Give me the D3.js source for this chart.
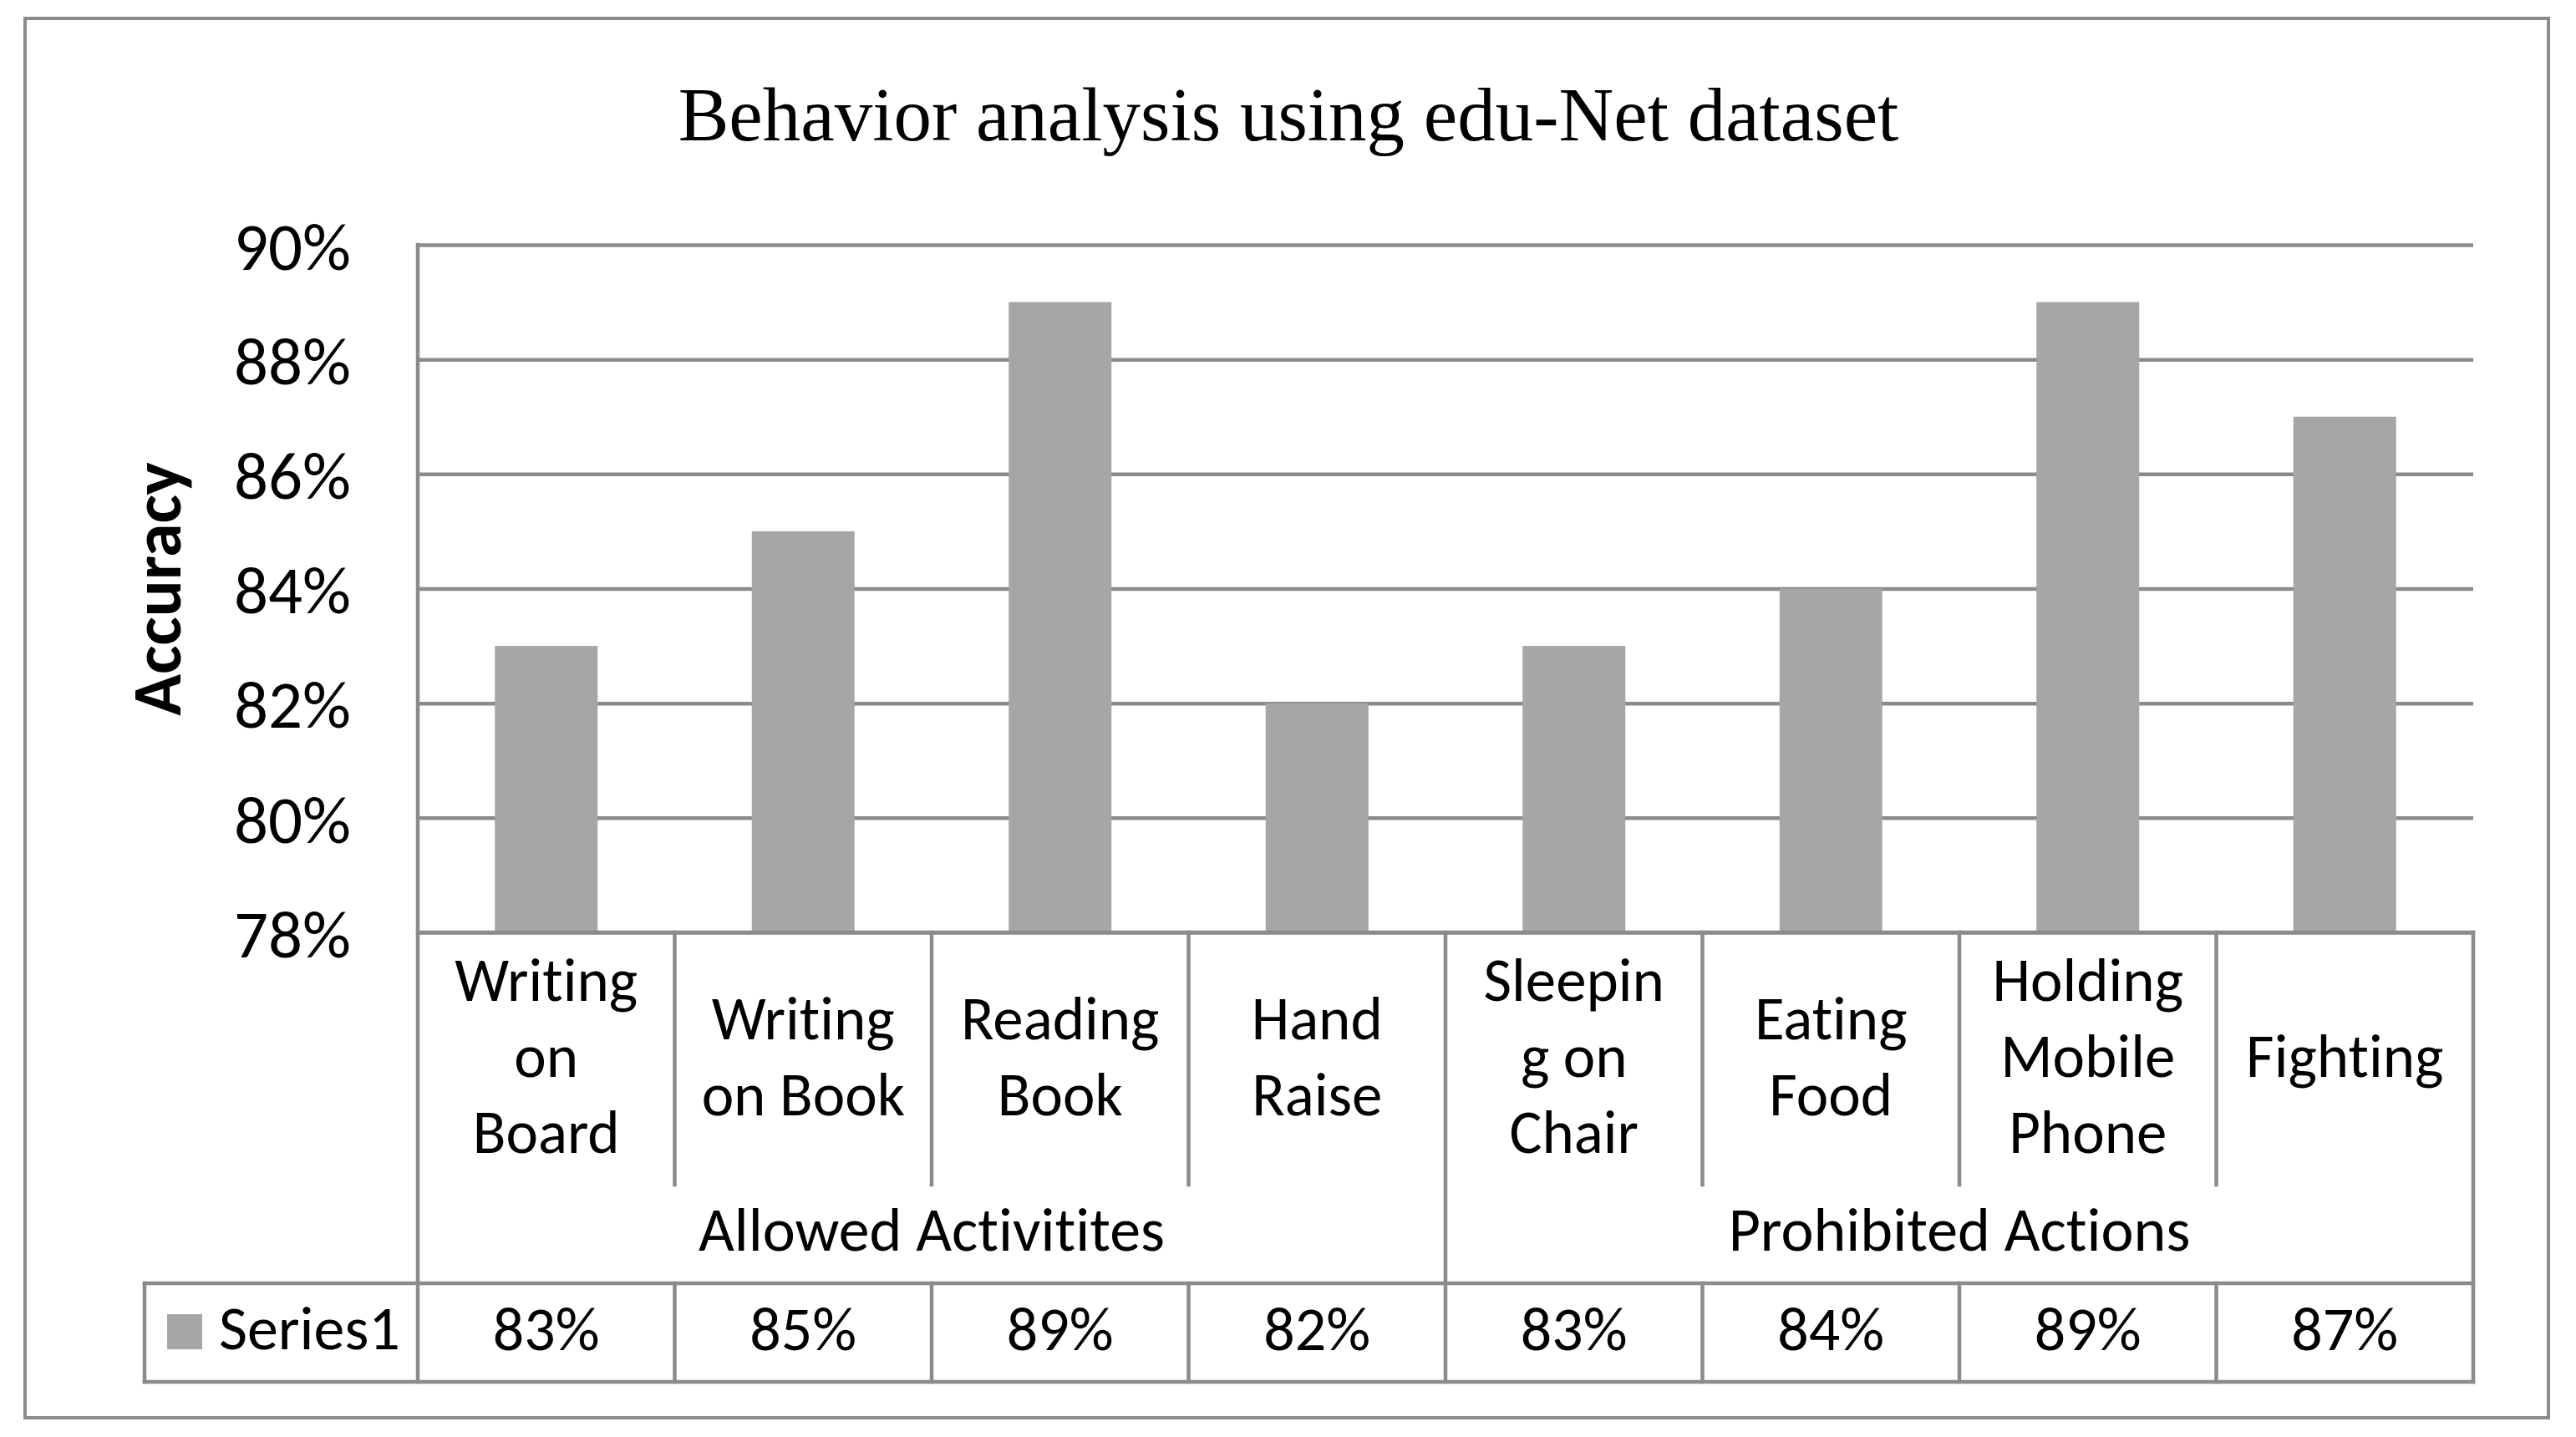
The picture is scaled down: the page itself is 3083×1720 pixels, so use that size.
<!DOCTYPE html>
<html>
<head>
<meta charset="utf-8">
<script src="https://cdn.jsdelivr.net/npm/d3@7"></script>
<style>
  html, body { margin: 0; padding: 0; background: #ffffff; }
  svg { display: block; }
  text { font-variant-ligatures: none; font-feature-settings: "liga" 0, "clig" 0; }
</style>
</head>
<body>
<svg id="chart" width="3083" height="1720"></svg>
<script>
// ---- data ----
const title = "Behavior analysis using edu-Net dataset";
const yAxisTitle = "Accuracy";
const categories = ["Writing\non\nBoard", "Writing\non Book", "Reading\nBook", "Hand\nRaise",
                    "Sleepin\ng on\nChair", "Eating\nFood", "Holding\nMobile\nPhone", "Fighting"];
const groups = ["Allowed Activitites", "Prohibited Actions"];
const groupSizes = [4, 4];
const seriesName = "Series1";
const values = [83, 85, 89, 82, 83, 84, 89, 87];
const yTicks = [78, 80, 82, 84, 86, 88, 90];

// ---- layout ----
const W = 3083, H = 1720;
const plot = { left: 500, right: 2960, top: 293, bottom: 1116 };
const catBottom = 1418, tableTop = 1536, tableBottom = 1654, tableLeft = 173;
const lineColor = "#8b8b8b", barColor = "#a6a6a6";
const sans = "Carlito, Lato, 'Open Sans', sans-serif";
const lw = 4.5;

const svg = d3.select("#chart");
svg.append("rect").attr("x", 0).attr("y", 0).attr("width", W).attr("height", H).attr("fill", "#fff");
// outer border
svg.append("rect").attr("x", 30).attr("y", 22).attr("width", 3020).attr("height", 1675)
  .attr("fill", "none").attr("stroke", lineColor).attr("stroke-width", 4);

const x = d3.scaleBand().domain(categories.map((d, i) => i)).range([plot.left, plot.right])
  .paddingInner(0.6).paddingOuter(0.3);
const y = d3.scaleLinear().domain([78, 90]).range([plot.bottom, plot.top]);

// title
svg.append("text").attr("x", 1542).attr("y", 168).attr("text-anchor", "middle")
  .attr("font-family", "'Liberation Serif', 'Times New Roman', serif").attr("font-size", 91)
  .attr("fill", "#000").text(title);

// y axis title
svg.append("text").attr("transform", "translate(216,705) rotate(-90)")
  .attr("text-anchor", "middle").attr("font-family", sans).attr("font-weight", "bold")
  .attr("font-size", 82).attr("fill", "#000").text(yAxisTitle);

// gridlines via axis
const gAxis = svg.append("g").attr("transform", `translate(${plot.left},0)`)
  .call(d3.axisLeft(y).tickValues(yTicks).tickSize(-(plot.right - plot.left)).tickPadding(80)
        .tickFormat(d => d + "%"));
gAxis.select(".domain").remove();
gAxis.selectAll(".tick line").attr("stroke", lineColor).attr("stroke-width", lw);
gAxis.selectAll(".tick text").attr("font-family", sans).attr("font-size", 81).attr("fill", "#000")
  .attr("dy", "0.36em");

// bars
svg.append("g").selectAll("rect").data(values).join("rect")
  .attr("x", (d, i) => x(i)).attr("width", x.bandwidth())
  .attr("y", d => y(d)).attr("height", d => y(78) - y(d))
  .attr("fill", barColor);

// structural lines
const lines = svg.append("g").attr("stroke", lineColor).attr("stroke-width", lw).attr("stroke-linecap", "square");
lines.append("line").attr("x1", plot.left).attr("x2", plot.left).attr("y1", plot.top).attr("y2", tableBottom);
lines.append("line").attr("x1", plot.left).attr("x2", plot.right).attr("y1", plot.bottom).attr("y2", plot.bottom);
lines.append("line").attr("x1", plot.right).attr("x2", plot.right).attr("y1", plot.bottom).attr("y2", tableBottom);

const step = x.step();
const boundaries = d3.range(1, categories.length).map(i => plot.left + i * step);
const groupEnds = d3.cumsum(groupSizes);
boundaries.forEach((bx, k) => {
  const idx = k + 1;
  const isGroup = groupEnds.includes(idx);
  lines.append("line").attr("x1", bx).attr("x2", bx).attr("y1", plot.bottom)
    .attr("y2", isGroup ? tableBottom : catBottom);
  if (!isGroup) {
    lines.append("line").attr("x1", bx).attr("x2", bx).attr("y1", tableTop).attr("y2", tableBottom);
  }
});
lines.append("line").attr("x1", tableLeft).attr("x2", plot.right).attr("y1", tableTop).attr("y2", tableTop);
lines.append("line").attr("x1", tableLeft).attr("x2", plot.right).attr("y1", tableBottom).attr("y2", tableBottom);
lines.append("line").attr("x1", tableLeft).attr("x2", tableLeft).attr("y1", tableTop).attr("y2", tableBottom);

// category labels
const lineH = 91, midBase = 1289;
const catG = svg.append("g").attr("font-family", sans).attr("font-size", 73).attr("fill", "#000")
  .attr("text-anchor", "middle");
categories.forEach((c, i) => {
  const parts = c.split("\n");
  const cx = plot.left + (i + 0.5) * step;
  const first = midBase - (parts.length - 1) / 2 * lineH;
  parts.forEach((p, j) => {
    catG.append("text").attr("x", cx).attr("y", first + j * lineH).text(p);
  });
});

// group labels
let start = 0;
groups.forEach((g, gi) => {
  const n = groupSizes[gi];
  const cx = plot.left + (start + n / 2) * step;
  catG.append("text").attr("x", cx).attr("y", 1497).attr("font-size", 74).text(g);
  start += n;
});

// data table values
values.forEach((v, i) => {
  catG.append("text").attr("x", plot.left + (i + 0.5) * step).attr("y", 1616).attr("font-size", 74).text(v + "%");
});

// legend key in table
svg.append("rect").attr("x", 200).attr("y", 1573).attr("width", 42).attr("height", 42).attr("fill", barColor);
svg.append("text").attr("x", 262).attr("y", 1615).attr("font-family", sans).attr("font-size", 74)
  .attr("fill", "#000").text(seriesName);
</script>
</body>
</html>
